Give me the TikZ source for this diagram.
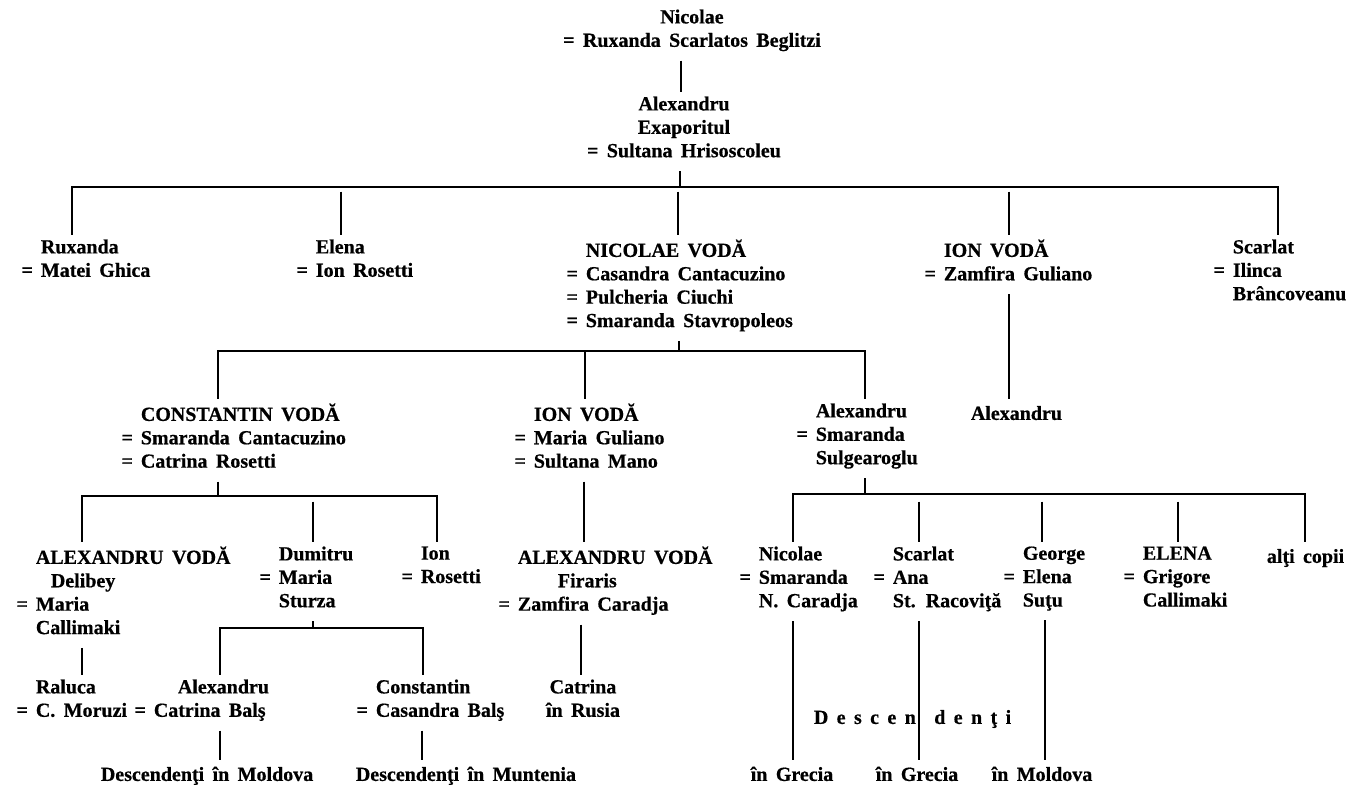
\documentclass[tikz,border=0pt]{standalone}
\usepackage{fontspec}
\setmainfont{Liberation Serif}[BoldFeatures={FakeBold=0.6}]
\usepackage{tikz}

\newcommand\sot{\llap{=\hspace{0.4em}}}
\newcommand\genfont{\fontsize{10}{11.7}\selectfont\bfseries\spaceskip=0.42em\relax}

\begin{document}
\begin{tikzpicture}[x=0.5pt,y=-0.5pt,line width=0.9pt,
    every node/.style={inner sep=0pt,yshift=8.19pt,execute at begin node=\strut,font={\genfont}},
    pers/.style={align=left,anchor=north west},
    cen/.style={align=center,anchor=north},
    up/.style={shorten <=3pt},
    dn/.style={shorten >=2pt},
    br/.style={shorten <=2pt,shorten >=2pt}]
  \useasboundingbox (0,0) rectangle (1350,785);

  \node[cen] (nic) at (692,25) {Nicolae\\= Ruxanda Scarlatos Beglitzi};
  \node[cen] (ale) at (684,112) {Alexandru\\Exaporitul\\= Sultana Hrisoscoleu};

  \node[pers] (rux) at (40,255) {Ruxanda\\\sot Matei Ghica};
  \node[pers] (ele) at (315,255) {Elena\\\sot Ion Rosetti};
  \node[pers] (nicv) at (585,255) {NICOLAE VODĂ\\\sot Casandra Cantacuzino\\\sot Pulcheria Ciuchi\\\sot Smaranda Stavropoleos};
  \node[pers] (ionv) at (943,255) {ION VODĂ\\\sot Zamfira Guliano};
  \node[pers] (sca) at (1232,255) {Scarlat\\\sot Ilinca\\Brâncoveanu};

  \node[pers] (con) at (140,419) {CONSTANTIN VODĂ\\\sot Smaranda Cantacuzino\\\sot Catrina Rosetti};
  \node[pers] (ion) at (533,419) {ION VODĂ\\\sot Maria Guliano\\\sot Sultana Mano};
  \node[pers] (als) at (815,419) {Alexandru\\\sot Smaranda\\Sulgearoglu};
  \node[pers] (alx) at (970,419) {Alexandru};

  \node[pers] (ald) at (35,562) {ALEXANDRU VODĂ\\\hspace{7.5pt}Delibey\\\sot Maria\\Callimaki};
  \node[pers] (dum) at (278,562) {Dumitru\\\sot Maria\\Sturza};
  \node[pers] (ior) at (420,562) {Ion\\\sot Rosetti};
  \node[pers] (alf) at (517,562) {ALEXANDRU VODĂ\\\hspace{20pt}Firaris\\\sot Zamfira Caradja};
  \node[pers] (nco) at (758,562) {Nicolae\\\sot Smaranda\\N. Caradja};
  \node[pers] (scr) at (892,562) {Scarlat\\\sot Ana\\St. Racoviţă};
  \node[pers] (geo) at (1022,562) {George\\\sot Elena\\Suţu};
  \node[pers] (eln) at (1142,562) {ELENA\\\sot Grigore\\Callimaki};
  \node[pers] (alt) at (1266,562) {alţi copii};

  \node[pers] (ral) at (35,695) {Raluca\\\sot C. Moruzi};
  \node[pers] (alb) at (153,695) {\hspace{12pt}Alexandru\\\sot Catrina Balş};
  \node[pers] (cob) at (375,695) {Constantin\\\sot Casandra Balş};
  \node[cen] (cat) at (583,695) {Catrina\\în Rusia};

  \node[pers] (dsc) at (813,723) {D e s c e n\hspace{5pt} d e n ţ i};

  \node[pers] (dmo) at (100,780) {Descendenţi în Moldova};
  \node[pers] (dmu) at (355,780) {Descendenţi în Muntenia};
  \node[cen] (gr1) at (792,780) {în Grecia};
  \node[cen] (gr2) at (917,780) {în Grecia};
  \node[cen] (mol) at (1042,780) {în Moldova};

  % bars
  \coordinate (j1) at (680,203);
  \coordinate (j2) at (679,367);
  \coordinate (j3) at (218,512);
  \coordinate (j4) at (865,510);
  \coordinate (j5) at (313,644);

  % stems
  \draw[up,dn] (nic.south -| 681,0) -- (ale.north -| 681,0);
  \draw[up] (ale.south -| 680,0) -- (j1);
  \draw[up] (nicv.south -| 679,0) -- (j2);
  \draw[up,dn] (ionv.south -| 1009,0) -- (alx.north -| 1009,0);
  \draw[up] (con.south -| 218,0) -- (j3);
  \draw[up,dn] (ion.south -| 584,0) -- (alf.north -| 584,0);
  \draw[up] (als.south -| 865,0) -- (j4);
  \draw[up,dn] (ald.south -| 82,0) -- (ral.north -| 82,0);
  \draw[up] (dum.south -| 313,0) -- (j5);
  \draw[up,dn] (alf.south -| 581,0) -- (cat.north -| 581,0);
  \draw[up,dn] (alb.south -| 220,0) -- (dmo.north -| 220,0);
  \draw[up,dn] (cob.south -| 422,0) -- (dmu.north -| 422,0);
  \draw[up,dn] (nco.south -| 793,0) -- (gr1.north -| 793,0);
  \draw[up,dn] (scr.south -| 919,0) -- (gr2.north -| 919,0);
  \draw[up,dn] (geo.south -| 1045,0) -- (mol.north -| 1045,0);

  % brackets
  \draw[br] (rux.north -| 72,0) |- (j1) -| (sca.north -| 1278,0);
  \draw[br] (con.north -| 218,0) |- (j2) -| (als.north -| 865,0);
  \draw[br] (ald.north -| 82,0) |- (j3) -| (ior.north -| 437,0);
  \draw[br] (nco.north -| 793,0) |- (j4) -| (alt.north -| 1305,0);
  \draw[br] (alb.north -| 220,0) |- (j5) -| (cob.north -| 423,0);

  % drops
  \draw[dn] (j1 -| 341,0) ++(0,5) -- (ele.north -| 341,0);
  \draw[dn] (j1 -| 678,0) ++(0,5) -- (nicv.north -| 678,0);
  \draw[dn] (j1 -| 1009,0) ++(0,5) -- (ionv.north -| 1009,0);
  \draw[dn] (j2 -| 585,0) -- (ion.north -| 585,0);
  \draw[dn] (j3 -| 313,0) ++(0,6) -- (dum.north -| 313,0);
  \draw[dn] (j4 -| 919,0) ++(0,8) -- (scr.north -| 919,0);
  \draw[dn] (j4 -| 1042,0) ++(0,8) -- (geo.north -| 1042,0);
  \draw[dn] (j4 -| 1178,0) ++(0,8) -- (eln.north -| 1178,0);
\end{tikzpicture}
\end{document}
